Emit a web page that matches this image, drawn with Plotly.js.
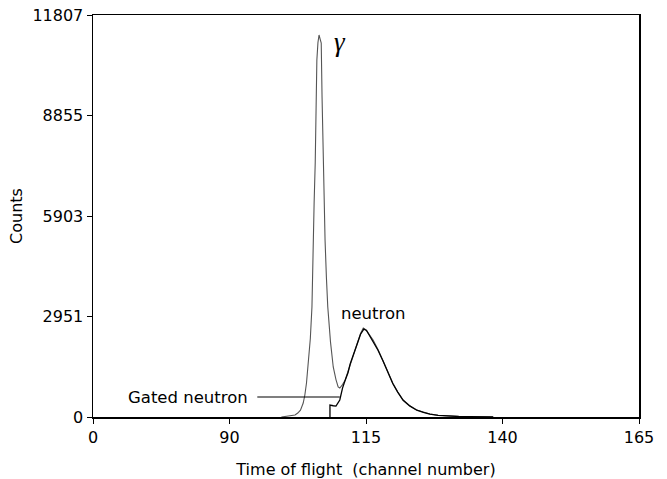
<!DOCTYPE html>
<html>
<head>
<meta charset="utf-8">
<script src="https://cdn.plot.ly/plotly-3.0.1.min.js"></script>
<style>html,body{margin:0;padding:0;background:#fff;}#chart{width:667px;height:479px;}</style>
</head>
<body>
<div id="chart"></div>
<script>
// Full time-of-flight spectrum (gamma + neutron)
const allChannels = [99.5, 100, 101, 102, 102.5, 103, 103.5, 103.8, 104.1, 104.4, 104.8, 105.1, 105.3, 105.5, 105.7, 105.85, 106.0, 106.2, 106.4, 106.6, 106.8, 106.95, 107.1, 107.3, 107.5, 107.75, 108.0, 108.5, 109.0, 109.5, 109.9, 110.2, 110.7, 111.2, 111.7, 112.1, 112.7, 113.4, 114.0, 114.5, 115.0, 115.6, 116.3, 117.2, 118.1, 119.0, 119.9, 120.8, 121.8, 123.0, 124.3, 125.5, 126.7, 128.2, 129.8, 132, 134, 136, 138.3];
const allCounts = [0, 15, 30, 60, 117, 200, 411, 646, 1000, 1469, 2300, 3231, 5200, 6300, 7460, 9017, 10485, 11000, 11220, 11100, 10984, 9398, 8047, 6373, 5200, 4100, 3231, 2200, 1469, 1100, 881, 852, 950, 1087, 1330, 1586, 1880, 2173, 2450, 2614, 2560, 2420, 2262, 1980, 1674, 1330, 999, 740, 499, 330, 206, 140, 88, 50, 29, 15, 8, 4, 0];
// Gated neutron spectrum
const gatedChannels = [108.4, 108.4, 109.0, 109.5, 110.2, 110.7, 111.2, 111.7, 112.1, 112.7, 113.4, 114.0, 114.6, 115.1, 115.6, 116.3, 117.2, 118.1, 119.0, 119.9, 120.8, 121.8, 123.0, 124.3, 125.5, 126.7, 128.2, 129.8, 132, 134, 136, 138.3];
const gatedCounts = [0, 350, 330, 320, 500, 850, 1087, 1300, 1560, 1860, 2150, 2430, 2580, 2540, 2400, 2240, 1960, 1650, 1310, 985, 730, 490, 325, 200, 135, 85, 48, 27, 14, 7, 3, 0];

const xTickVals = [65, 90, 115, 140, 165];
const xTickText = ['0', '90', '115', '140', '165'];
const yTickVals = [0, 2951, 5903, 8855, 11807];

const FONT = 'DejaVu Sans, Verdana, sans-serif';

const traces = [
  {x: allChannels, y: allCounts, type: 'scatter', mode: 'lines',
   line: {color: '#555', width: 1.1}, hoverinfo: 'skip'},
  {x: gatedChannels, y: gatedCounts, type: 'scatter', mode: 'lines',
   line: {color: '#000', width: 1.3}, hoverinfo: 'skip'}
];

const layout = {
  width: 667, height: 479,
  margin: {l: 93, r: 28, t: 15, b: 62},
  paper_bgcolor: '#fff', plot_bgcolor: '#fff',
  showlegend: false,
  font: {family: FONT, size: 16, color: '#000'},
  xaxis: {
    range: [65, 165], tickvals: xTickVals, ticktext: xTickText,
    showgrid: false, zeroline: false, showline: true, linecolor: '#000', linewidth: 1.5,
    mirror: true, ticks: 'outside', ticklen: 5, tickcolor: '#000',
    tickfont: {family: FONT, size: 16, color: '#000'},
    title: {text: 'Time of flight  (channel number)', font: {family: FONT, size: 16, color: '#000'}, standoff: 18}
  },
  yaxis: {
    range: [0, 11807], tickvals: yTickVals, ticktext: yTickVals.map(String),
    showgrid: false, zeroline: false, showline: true, linecolor: '#000', linewidth: 1.5,
    mirror: true, ticks: 'outside', ticklen: 5, tickcolor: '#000',
    tickfont: {family: FONT, size: 16, color: '#000'},
    title: {text: 'Counts', font: {family: FONT, size: 16, color: '#000'}, standoff: 6}
  },
  annotations: [
    {x: 110.2, y: 11014, xref: 'x', yref: 'y', text: '<i>γ</i>', showarrow: false,
     font: {family: 'Liberation Serif, Times New Roman, serif', size: 27, color: '#000'}},
    {x: 116.3, y: 3054, xref: 'x', yref: 'y', text: 'neutron', showarrow: false,
     font: {family: FONT, size: 16.5, color: '#000'}},
    {x: 110.2, y: 587, xref: 'x', yref: 'y', text: 'Gated neutron', showarrow: true,
     arrowhead: 0, arrowwidth: 1.2, arrowcolor: '#000', ax: -152, ay: 0, standoff: 0, startstandoff: 8,
     font: {family: FONT, size: 16.5, color: '#000'}}
  ]
};

Plotly.newPlot('chart', traces, layout, {staticPlot: true, displayModeBar: false});
</script>
</body>
</html>
